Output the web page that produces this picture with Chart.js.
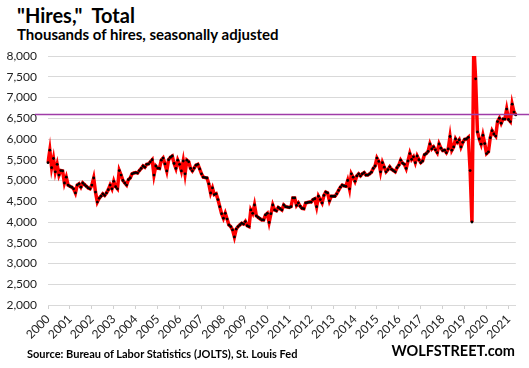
<!DOCTYPE html>
<html>
<head>
<meta charset="utf-8">
<script src="https://cdn.jsdelivr.net/npm/chart.js@4.4.0/dist/chart.umd.min.js"></script>
<style>
  html, body { margin: 0; padding: 0; background: #fff; }
  body { width: 529px; height: 368px; position: relative; overflow: hidden; font-family: Lato, 'Open Sans', sans-serif; }
  #chart { position: absolute; left: 0; top: 0; }
  .txt { position: absolute; white-space: pre; font-weight: bold; color: #000; }
  #title { left: 17px; top: 5px; font-size: 20px; line-height: 20px; }
  #subtitle { left: 17px; top: 27px; font-size: 15px; line-height: 15px; }
  #source { left: 27px; top: 348px; font-size: 11px; line-height: 11px; }
  #brand { right: 14px; top: 344px; font-size: 14.5px; line-height: 14.5px; }
</style>
</head>
<body>
<div id="title" class="txt">"Hires,"  Total</div>
<div id="subtitle" class="txt">Thousands of hires, seasonally adjusted</div>
<canvas id="chart" width="529" height="368"></canvas>
<div id="source" class="txt">Source: Bureau of Labor Statistics (JOLTS), St. Louis Fed</div>
<div id="brand" class="txt">WOLFSTREET.com</div>

<script>
// ============================================
// DATA (monthly, Dec 2000 - Apr 2022, thousands)
// ============================================
const startYear = 2000;
const startMonth = 12;

const hires = [
    // 2000 (Dec)
    5430,
    // 2001
    5730, 5310, 5530, 5210, 5390, 5130, 5240, 5230, 4940, 5080, 4890, 4860,
    // 2002
    4840, 4800, 4700, 4890, 4920, 4840, 4940, 4900, 4860, 4820, 4800, 4890,
    // 2003
    5060, 4720, 4480, 4570, 4620, 4680, 4640, 4700, 4780, 4890, 4800, 4980,
    // 2004
    4850, 4800, 5240, 5130, 5000, 4940, 4890, 5020, 5060, 5160, 5180, 5190,
    // 2005
    5180, 5240, 5290, 5350, 5320, 5390, 5400, 5450, 5500, 5130, 5350, 5300,
    // 2006
    5290, 5490, 5540, 5400, 5230, 5500, 5560, 5590, 5410, 5290, 5490, 5390,
    // 2007
    5230, 5470, 5160, 5490, 5450, 5290, 5230, 5300, 5370, 5390, 5280, 5160,
    // 2008
    5080, 5070, 5060, 4920, 4700, 4820, 4660, 4680, 4540, 4370, 4200, 4090,
    // 2009
    4210, 4070, 3930, 3890, 3810, 3640, 3830, 3890, 3930, 3970, 3950, 4010,
    // 2010
    3910, 3890, 4290, 4210, 4410, 4150, 4110, 4080, 4050, 4050, 4170, 4210,
    // 2011
    3990, 4200, 4410, 4290, 4270, 4350, 4320, 4290, 4410, 4370, 4360, 4350,
    // 2012
    4370, 4580, 4580, 4400, 4460, 4380, 4330, 4320, 4460, 4470, 4480, 4480,
    // 2013
    4540, 4560, 4370, 4620, 4540, 4460, 4640, 4720, 4700, 4510, 4620, 4620,
    // 2014
    4620, 4680, 4760, 4840, 4890, 4870, 4860, 5000, 4800, 5160, 5080, 4980,
    // 2015
    5110, 5160, 5110, 5160, 5190, 5130, 5130, 5160, 5200, 5290, 5350, 5540,
    // 2016
    5460, 5210, 5430, 5320, 5210, 5260, 5330, 5270, 5240, 5210, 5310, 5370,
    // 2017
    5490, 5420, 5390, 5290, 5470, 5650, 5510, 5570, 5430, 5590, 5500, 5430,
    // 2018
    5470, 5620, 5650, 5700, 5880, 5760, 5810, 5740, 5670, 5880, 5780, 5720,
    // 2019
    5730, 5670, 5760, 6060, 5730, 5810, 6000, 5920, 5980, 5810, 5920, 5990,
    // 2020
    6000, 6040, 5240, 4000, 8300, 7450, 6170, 6000, 5875, 6090, 5890, 5650,
    // 2021
    5690, 6030, 6200, 6120, 6070, 6420, 6500, 6380, 6480, 6480, 6720, 6470,
    // 2022
    6420, 6840, 6650, 6580
];

const yearLabels = ['2000', '2001', '2002', '2003', '2004', '2005', '2006', '2007',
    '2008', '2009', '2010', '2011', '2012', '2013', '2014', '2015', '2016', '2017',
    '2018', '2019', '2020', '2021'];

const yTicks = [2000, 2500, 3000, 3500, 4000, 4500, 5000, 5500, 6000, 6500, 7000, 7500, 8000];

const refLevel = 6600;

// month categories
const months = [];
for (let i = 0; i < hires.length; i++) {
    const m = startMonth - 1 + i;
    const y = startYear + Math.floor(m / 12);
    months.push(y + '-' + String(m % 12 + 1).padStart(2, '0'));
}

// ============================================
// HORIZONTAL REFERENCE LINE
// ============================================
const refLinePlugin = {
    id: 'refLine',
    afterDatasetsDraw(chart) {
        const ctx = chart.ctx;
        const y = Math.round(chart.scales.y.getPixelForValue(refLevel)) + 0.5;
        ctx.save();
        ctx.strokeStyle = '#a03ca8';
        ctx.lineWidth = 1.5;
        ctx.beginPath();
        ctx.moveTo(35, y);
        ctx.lineTo(chart.width, y);
        ctx.stroke();
        ctx.restore();
    }
};

new Chart(document.getElementById('chart'), {
    type: 'line',
    data: {
        labels: months,
        datasets: [{
            data: hires,
            borderColor: '#ff0000',
            borderWidth: 3.5,
            tension: 0,
            pointRadius: 1.4,
            pointHoverRadius: 0,
            pointBackgroundColor: '#000',
            pointBorderWidth: 0
        }]
    },
    options: {
        responsive: false,
        animation: false,
        devicePixelRatio: 1,
        layout: { padding: { top: 56, right: 6, bottom: 0, left: 0 } },
        plugins: {
            legend: { display: false },
            tooltip: { enabled: false }
        },
        scales: {
            x: {
                type: 'category',
                offset: false,
                afterFit: s => { s.height = 63; },
                border: { color: '#d9d9d9' },
                grid: {
                    drawOnChartArea: false,
                    tickLength: 4,
                    color: ctx => (ctx.index % 12 === 0 ? '#d0d0d0' : 'rgba(0,0,0,0)')
                },
                ticks: {
                    autoSkip: false,
                    minRotation: 45,
                    maxRotation: 45,
                    padding: 3,
                    color: '#222',
                    font: { family: 'Lato', size: 12 },
                    callback: (v, i) => (i % 12 === 0 ? yearLabels[i / 12] : '')
                }
            },
            y: {
                min: yTicks[0],
                max: yTicks[yTicks.length - 1],
                afterFit: s => { s.width = 48; },
                afterBuildTicks: s => { s.ticks = yTicks.map(v => ({ value: v })); },
                border: { display: false },
                grid: { color: '#d9d9d9', drawTicks: false },
                ticks: {
                    padding: 11,
                    color: '#222',
                    font: { family: 'Lato', size: 12 },
                    callback: v => v.toLocaleString('en-US')
                }
            }
        }
    },
    plugins: [refLinePlugin]
});
</script>
</body>
</html>
